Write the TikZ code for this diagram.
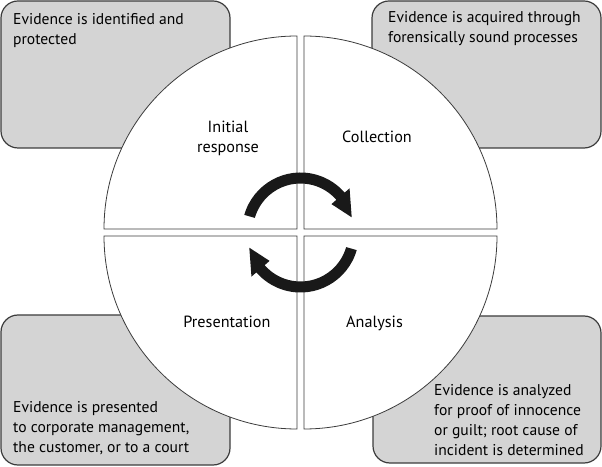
\documentclass[tikz,border=0pt]{standalone}
\usepackage{fontspec}
\setmainfont{PT Sans}
\usepackage{tikz}
\usetikzlibrary{calc}
\definecolor{boxgray}{RGB}{212,212,212}
\definecolor{edgegray}{RGB}{60,60,60}
\tikzset{
  note/.style={draw=edgegray, line width=1.2pt, fill=boxgray, rounded corners=17pt},
  quad/.style={draw=edgegray, line width=0.8pt, fill=white},
  notetext/.style={anchor=base west, align=left, inner sep=0pt, font=\fontsize{15.6}{20}\selectfont},
  quadtext/.style={anchor=base, align=center, inner sep=0pt, font=\fontsize{16.2}{20}\selectfont}
}
\begin{document}
\begin{tikzpicture}[x=1pt, y=1pt]
        \useasboundingbox (0,0) rectangle (602,466);
        \draw[note] (1,318) rectangle (230,465);
        \draw[note] (372,318) rectangle (601,465);
        \draw[note] (1,1) rectangle (230,151);
        \draw[note] (373,3) rectangle (601,150);
        \draw[quad] (297,237) -- ++(-193,0) arc[start angle=180, end angle=90, radius=193] -- cycle;
        \draw[quad] (304,237) -- ++(0,193) arc[start angle=90, end angle=0, radius=193] -- cycle;
        \draw[quad] (297,230) -- ++(0,-193) arc[start angle=270, end angle=180, radius=193] -- cycle;
        \draw[quad] (304,230) -- ++(193,0) arc[start angle=0, end angle=-90, radius=193] -- cycle;
        \node[notetext] (identified) at (13,421) {Evidence is identified and\\protected};
        \node[notetext] (acquired) at (388,423) {Evidence is acquired through\\forensically sound processes};
        \node[notetext] (presented) at (13,14) {Evidence is presented\\to corporate management,\\the customer, or to a court};
        \node[notetext] (analyzed) at (434,11) {Evidence is analyzed\\for proof of innocence\\or guilt; root cause of\\incident is determined};
        \node[quadtext] (initial) at (228,313) {Initial\\response};
        \node[quadtext] (collection) at (377,323) {Collection};
        \node[quadtext] (presentation) at (227,139) {Presentation};
        \node[quadtext] (analysis) at (374.5,139) {Analysis};
        \begin{scope}[shift={(300.5,235)}]
            \fill[black!90] (164:58.5) arc[start angle=164, end angle=41, radius=58.5] -- (41:65) -- (15:53) -- (41:41) -- (41:47.5) arc[start angle=41, end angle=164, radius=47.5] -- cycle;
        \end{scope}
        \begin{scope}[shift={(300.5,232)}, rotate=180]
            \fill[black!90] (164:58.5) arc[start angle=164, end angle=41, radius=58.5] -- (41:65) -- (15:53) -- (41:41) -- (41:47.5) arc[start angle=41, end angle=164, radius=47.5] -- cycle;
        \end{scope}
    \end{tikzpicture}
\end{document}
